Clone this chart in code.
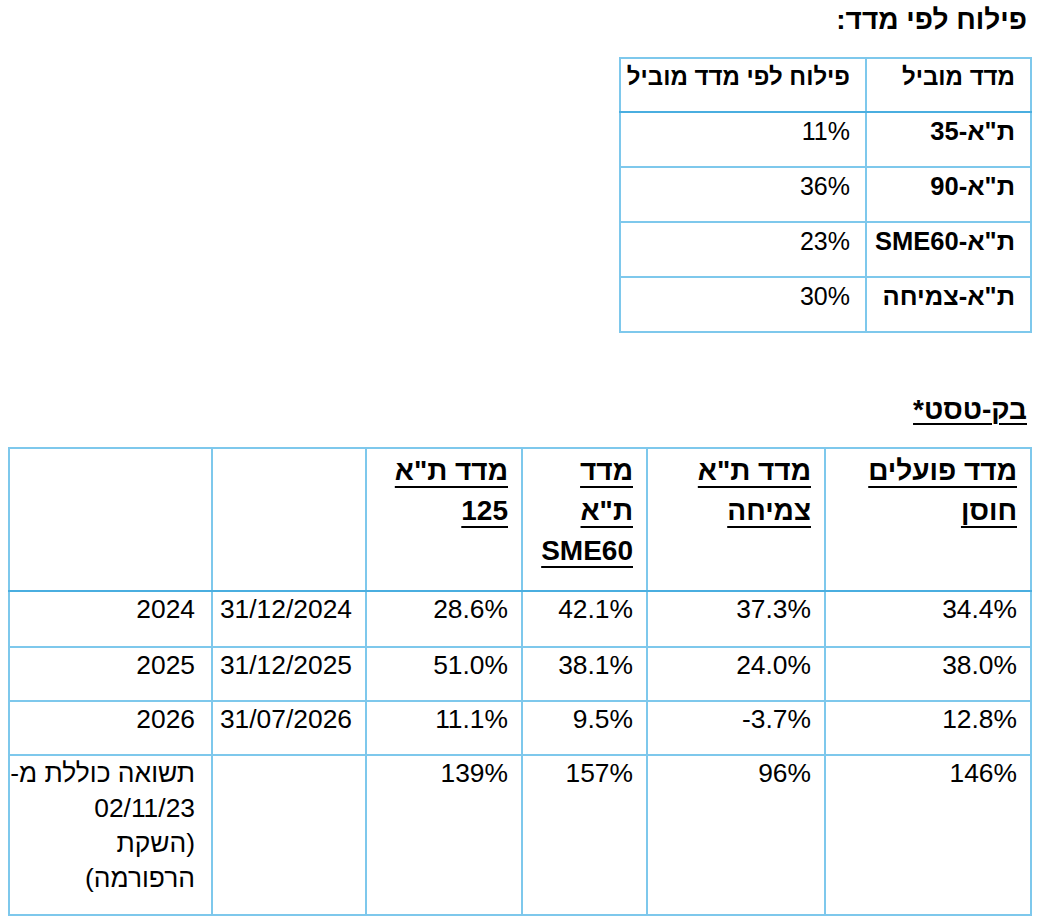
<!DOCTYPE html>
<html lang="he">
<head>
<meta charset="utf-8">
<script src="https://cdn.jsdelivr.net/npm/chart.js@4"></script>
<style>
  html, body { margin: 0; padding: 0; background: #fff; }
  body { width: 1040px; height: 918px; position: relative; overflow: hidden;
         font-family: "Liberation Sans", Arial, sans-serif; color: #000; }
  .title { position: absolute; right: 13px; direction: rtl; font-weight: bold; font-size: 28px; line-height: 32px; white-space: nowrap; }
  #t1title { top: 4px; }
  #t2title { top: 394px; text-decoration: underline; text-decoration-thickness: 2px; text-underline-offset: 4px; }
  table { position: absolute; border-collapse: collapse; direction: rtl; table-layout: fixed; }
  td { border: 2px solid #7ec8ec; vertical-align: top; text-align: right; padding: 0; box-sizing: border-box; }
  #t1 { left: 619px; top: 57px; width: 411px; }
  #t1 td { padding-right: 15px; line-height: 30px; padding-top: 3px; font-size: 25px; white-space: nowrap; }
  #t1 tr.h td { border-bottom-color: #4aaee0; font-weight: bold; font-size: 24px; }
  #t1 td.n { font-weight: bold; font-size: 25.5px; }
  #t2 { left: 8px; top: 447px; width: 1022px; }
  #t2 td { padding-right: 13px; line-height: 35px; padding-top: 0px; font-size: 26.4px; }
  #t2 td.lab { padding-right: 16px; }
  #t2 tr.h td { border-bottom-color: #4aaee0; font-weight: bold; line-height: 40px; padding-top: 2px; font-size: 28px; white-space: nowrap; }
  #t2 tr.h td span { text-decoration: underline; text-decoration-thickness: 2px; text-underline-offset: 6px; }
  .v { direction: ltr; }
</style>
</head>
<body>
<div class="title" id="t1title"></div>
<table id="t1"><colgroup><col style="width:165px"><col style="width:246px"></colgroup><tbody></tbody></table>
<div class="title" id="t2title"></div>
<table id="t2"><colgroup>
  <col style="width:206px"><col style="width:178px"><col style="width:125px">
  <col style="width:156px"><col style="width:154px"><col style="width:203px">
</colgroup><tbody></tbody></table>
<script>
// ---- Data: allocation by leading index ----
const allocTitle = "פילוח לפי מדד:";
const allocHeaders = ["מדד מוביל", "פילוח לפי מדד מוביל"];
const allocIndices = ["ת\"א-35", "ת\"א-90", "ת\"א-SME60", "ת\"א-צמיחה"];
const allocShares = ["11%", "36%", "23%", "30%"];

// ---- Data: back-test ----
const backTitle = "בק-טסט*";
const backHeaders = [
  ["מדד פועלים", "חוסן"],
  ["מדד ת\"א", "צמיחה"],
  ["מדד", "ת\"א", "SME60"],
  ["מדד ת\"א", "125"],
  [],
  []
];
const periodLabels = ["2024", "2025", "2026"];
const periodDates = ["31/12/2024", "31/12/2025", "31/07/2026"];
const poalimHosen = ["34.4%", "38.0%", "12.8%"];
const taGrowth = ["37.3%", "24.0%", "-3.7%"];
const taSME60 = ["42.1%", "38.1%", "9.5%"];
const ta125 = ["28.6%", "51.0%", "11.1%"];
const totalReturnLabel = ["תשואה כוללת מ-", "02/11/23", "(השקת", "הרפורמה)"];
const totalReturn = ["146%", "96%", "157%", "139%"];

function cell(tr, content, cls) {
  const td = document.createElement("td");
  if (cls) td.className = cls;
  td.textContent = content;
  tr.appendChild(td);
  return td;
}

document.getElementById("t1title").textContent = allocTitle;
document.getElementById("t2title").textContent = backTitle;

const b1 = document.querySelector("#t1 tbody");
let tr = document.createElement("tr"); tr.className = "h"; tr.style.height = "54px";
allocHeaders.forEach(h => cell(tr, h)); b1.appendChild(tr);
allocIndices.forEach((n, i) => {
  const r = document.createElement("tr"); r.style.height = "55px";
  cell(r, n, "n"); cell(r, allocShares[i], "v"); b1.appendChild(r);
});

const b2 = document.querySelector("#t2 tbody");
tr = document.createElement("tr"); tr.className = "h"; tr.style.height = "143px";
backHeaders.forEach(lines => {
  const td = document.createElement("td");
  lines.forEach(t => { const s = document.createElement("span"); s.textContent = t; const d = document.createElement("div"); d.appendChild(s); td.appendChild(d); });
  tr.appendChild(td);
});
b2.appendChild(tr);
const rowH = ["56px", "54px", "54px"];
periodLabels.forEach((p, i) => {
  const r = document.createElement("tr"); r.style.height = rowH[i];
  cell(r, poalimHosen[i], "v"); cell(r, taGrowth[i], "v"); cell(r, taSME60[i], "v"); cell(r, ta125[i], "v");
  cell(r, periodDates[i], "v"); cell(r, p, "v lab");
  b2.appendChild(r);
});
const last = document.createElement("tr"); last.style.height = "160px";
totalReturn.forEach(v => cell(last, v, "v"));
cell(last, "");
const lc = document.createElement("td"); lc.className = "lab";
totalReturnLabel.forEach(t => { const d = document.createElement("div"); d.textContent = t; lc.appendChild(d); });
last.appendChild(lc);
b2.appendChild(last);
</script>
</body>
</html>
